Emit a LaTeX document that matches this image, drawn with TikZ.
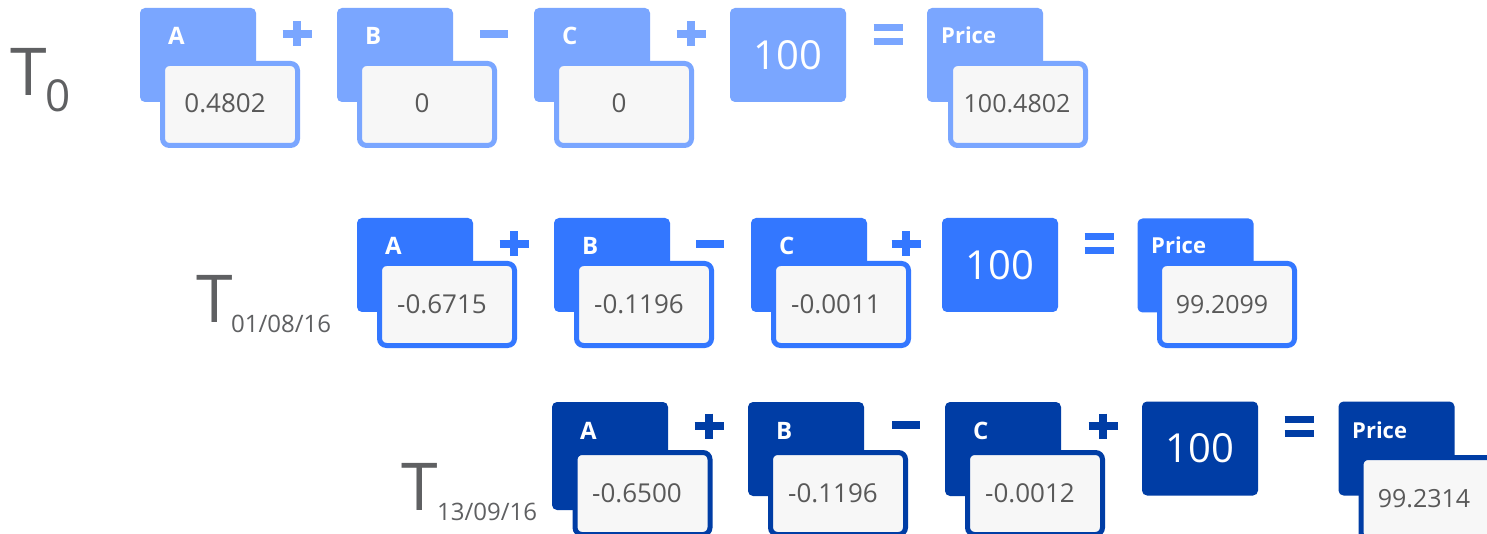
\documentclass[tikz,border=0pt]{standalone}
\usepackage{fontspec}
\setmainfont{Open Sans}
\definecolor{rowone}{HTML}{7AA6FF}
\definecolor{rowtwo}{HTML}{3377FF}
\definecolor{rowthree}{HTML}{003DA5}
\definecolor{valgray}{HTML}{595959}
\definecolor{frontfill}{HTML}{F7F7F7}
\definecolor{tgray}{HTML}{5F6062}
\tikzset{
 backbox/.style={rectangle, rounded corners=5pt, minimum width=116pt, minimum height=94pt, inner sep=0pt, draw=none},
 frontbox/.style={rectangle, rounded corners=7pt, minimum width=135pt, minimum height=82pt, inner sep=0pt, line width=5pt, fill=frontfill},
 lbl/.style={text=white, font=\fontsize{24}{28}\selectfont\bfseries, inner sep=0pt, anchor=base west},
 plbl/.style={text=white, font=\fontsize{22}{26}\selectfont\bfseries, inner sep=0pt, anchor=base west},
 val/.style={text=valgray, font=\fontsize{26}{30}\selectfont, inner sep=0pt, anchor=base},
 pval/.style={text=valgray, font=\fontsize{25}{30}\selectfont, inner sep=0pt, anchor=base},
 hundred/.style={rectangle, rounded corners=5pt, minimum width=116pt, minimum height=94pt, inner sep=0pt, text=white, font=\fontsize{40}{46}\selectfont},
 opline/.style={line width=8pt},
 eqline/.style={line width=7pt},
 tlbl/.style={text=tgray, font=\fontsize{66}{70}\selectfont, inner sep=0pt, anchor=base west},
 tsub/.style={text=tgray, inner sep=0pt, anchor=base west},
}
% #1 name, #2 left, #3 top, #4 front top, #5 colour, #6 label, #7 value
\newcommand\cardpair[7]{%
  \node[backbox, fill=#5] (#1back) at (#2+58, #3+47) {};
  \node[lbl] (#1lab) at (#2+28, #3+37) {#6};
  \node[frontbox, draw=#5] (#1front) at (#2+90, #4+43.5) {};
  \node[val] (#1val) at (#2+85, #4+52) {#7};
}
\newcommand\pricepair[5]{%
  \node[backbox, fill=#5] (#1back) at (#2+58, #3+47) {};
  \node[plbl] (#1lab) at (#2+14, #3+36) {Price};
  \node[frontbox, draw=#5] (#1front) at (#2+90, #4+43.5) {};
  \node[pval] (#1val) at (#2+86, #4+52) {#1v};
}
\newcommand\plusop[3]{\draw[opline, draw=#3] (#1-14.5,#2) -- (#1+14.5,#2) (#1,#2-12.5) -- (#1,#2+12.5);}
\newcommand\minusop[3]{\draw[opline, draw=#3] (#1-14,#2) -- (#1+14,#2);}
\newcommand\equalop[3]{\draw[eqline, draw=#3] (#1-14.5,#2-7) -- (#1+14.5,#2-7) (#1-14.5,#2+7) -- (#1+14.5,#2+7);}
\begin{document}
\begin{tikzpicture}[x=1pt,y=-1pt]
\clip (0,0) rectangle (1487,534);
\fill[white] (0,0) rectangle (1487,534);
% T labels
\node[tlbl] (tzero) at (10,96) {T};
\node[tsub, font=\fontsize{44}{48}\selectfont] (tzerosub) at (45,112) {0};
\node[tlbl] (tone) at (196,323) {T};
\node[tsub, font=\fontsize{24}{28}\selectfont] (tonesub) at (231,332) {01/08/16};
\node[tlbl] (ttwo) at (401,510) {T};
\node[tsub, font=\fontsize{24}{28}\selectfont] (ttwosub) at (437,520) {13/09/16};
% Row 1
\cardpair{ra}{140}{8}{61}{rowone}{A}{0.4802}
\cardpair{rb}{337}{8}{61}{rowone}{B}{0}
\cardpair{rc}{534}{8}{61}{rowone}{C}{0}
\node[hundred, fill=rowone] (rh) at (788,55) {100};
\node[backbox, fill=rowone] (rpback) at (985,55) {};
\node[plbl] (rplab) at (941,44) {Price};
\node[frontbox, draw=rowone] (rpfront) at (1018,104.5) {};
\node[pval] (rpval) at (1017,113) {100.4802};
\plusop{297}{34}{rowone}
\minusop{494}{34}{rowone}
\plusop{691}{34}{rowone}
\equalop{888}{34.5}{rowone}
% Row 2
\cardpair{sa}{357}{218}{261}{rowtwo}{A}{-0.6715}
\cardpair{sb}{554}{218}{261}{rowtwo}{B}{-0.1196}
\cardpair{sc}{751}{218}{261}{rowtwo}{C}{-0.0011}
\node[hundred, fill=rowtwo] (sh) at (1000,265) {100};
\node[backbox, fill=rowtwo] (spback) at (1195.5,265.5) {};
\node[plbl] (splab) at (1151,254) {Price};
\node[frontbox, draw=rowtwo] (spfront) at (1227,304.5) {};
\node[pval] (spval) at (1222,313) {99.2099};
\plusop{514}{244}{rowtwo}
\minusop{710}{244}{rowtwo}
\plusop{906}{244}{rowtwo}
\equalop{1099}{244}{rowtwo}
% Row 3
\node[backbox, fill=rowthree, minimum height=108pt] (taback) at (610,456) {};
\node[lbl] (talab) at (580,439) {A};
\node[frontbox, draw=rowthree] (tafront) at (642.5,493.5) {};
\node[val] (taval) at (637,502) {-0.6500};
\cardpair{tb}{748}{402}{450}{rowthree}{B}{-0.1196}
\cardpair{tc}{945}{402}{450}{rowthree}{C}{-0.0012}
\node[hundred, fill=rowthree] (th) at (1200,448.5) {100};
\node[backbox, fill=rowthree] (tpback) at (1396.5,448.5) {};
\node[plbl] (tplab) at (1352,438) {Price};
\node[frontbox, draw=rowthree] (tpfront) at (1428.5,498.5) {};
\node[pval] (tpval) at (1424,507) {99.2314};
\plusop{709}{426}{rowthree}
\minusop{906}{425}{rowthree}
\plusop{1103}{426}{rowthree}
\equalop{1299}{426}{rowthree}
\end{tikzpicture}
\end{document}
